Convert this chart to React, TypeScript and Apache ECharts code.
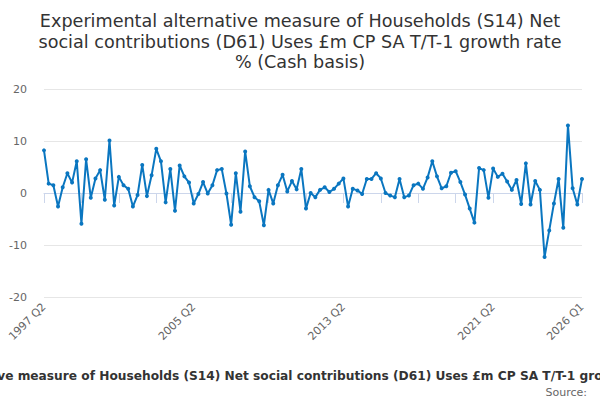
import React, { useEffect, useRef } from "react";
import * as echarts from "echarts";

const TITLE =
  "Experimental alternative measure of Households (S14) Net\nsocial contributions (D61) Uses £m CP SA T/T-1 growth rate\n% (Cash basis)";
const AXIS_TITLE =
  "Experimental alternative measure of Households (S14) Net social contributions (D61) Uses £m CP SA T/T-1 growth rate % (Cash basis)";

const START_YEAR = 1997;
const START_Q = 2;
const COUNT = 116;

const categories: string[] = [];
for (let i = 0; i < COUNT; i++) {
  const q = START_Q - 1 + i;
  categories.push(`${START_YEAR + Math.floor(q / 4)} Q${(q % 4) + 1}`);
}

const values = [
  8.2, 1.8, 1.5, -2.6, 1.1, 3.8, 2.0, 6.1, -5.9, 6.5,
  -0.9, 2.8, 4.4, -1.3, 10.1, -2.4, 3.1, 1.5, 0.8, -2.6,
  -0.4, 5.4, -0.6, 3.4, 8.5, 6.1, -1.8, 4.6, -3.4, 5.3,
  3.2, 2.0, -2.0, -0.2, 2.1, -0.1, 1.5, 4.4, 4.6, -0.1,
  -6.1, 3.8, -3.6, 8.0, 1.3, -0.8, -1.6, -6.2, 0.6, -2.0,
  1.5, 3.5, 0.3, 2.3, 0.7, 4.6, -3.0, 0.0, -0.8, 0.6,
  1.1, 0.2, 0.8, 1.8, 2.8, -2.6, 0.8, 0.5, -0.2, 2.7,
  2.7, 3.8, 2.8, 0.0, -0.5, -0.8, 2.7, -0.8, -0.5, 1.5,
  1.8, 0.8, 3.0, 6.1, 3.2, 0.9, 1.3, 3.9, 4.2, 2.1,
  -0.3, -3.0, -5.7, 4.8, 4.4, -0.9, 4.7, 3.1, 3.7, 2.2,
  0.6, 2.5, -2.1, 5.7, -2.2, 2.3, 0.6, -12.3, -7.2, -2.0,
  2.7, -6.7, 13.0, 0.9, -2.2, 2.7,
];

const labelIndices = [0, 32, 64, 96, 115];
const tickIndices = [0, 8, 16, 24, 32, 40, 48, 56, 64, 72, 80, 88, 96, 104, 115];

const Y_MIN = -20;
const Y_MAX = 20;
const Y_INTERVAL = 10;

export default function App() {
  const ref = useRef<HTMLDivElement>(null);
  useEffect(() => {
    if (!ref.current) return;
    const chart = echarts.init(ref.current, null, { renderer: "svg" });
    chart.setOption({
      animation: false,
      backgroundColor: "#ffffff",
      title: {
        text: TITLE,
        left: "center",
        top: 6,
        textStyle: {
          fontFamily: "DejaVu Sans",
          fontSize: 17.6,
          fontWeight: "normal",
          color: "#333333",
          lineHeight: 20.5,
        },
      },
      grid: { left: 44, right: 18, top: 89, bottom: 103 },
      xAxis: {
        type: "category",
        data: categories,
        boundaryGap: false,
        axisLine: { lineStyle: { color: "#ccd6eb", width: 1 } },
        axisTick: {
          length: 10,
          lineStyle: { color: "#ccd6eb" },
          interval: (i: number) => tickIndices.includes(i),
        },
        axisLabel: {
          interval: (i: number) => labelIndices.includes(i),
          rotate: 45,
          fontFamily: "DejaVu Sans",
          fontSize: 11,
          color: "#666666",
          margin: 8,
        },
        splitLine: { show: false },
      },
      yAxis: {
        type: "value",
        min: Y_MIN,
        max: Y_MAX,
        interval: Y_INTERVAL,
        axisLine: { show: false },
        axisTick: { show: false },
        axisLabel: {
          fontFamily: "DejaVu Sans",
          fontSize: 11,
          color: "#666666",
          margin: 17,
        },
        splitLine: { lineStyle: { color: "#e6e6e6", width: 1 } },
      },
      series: [
        {
          type: "line",
          data: values,
          symbol: "circle",
          symbolSize: 4,
          showAllSymbol: true,
          itemStyle: { color: "#0a76c0" },
          lineStyle: { color: "#0a76c0", width: 2 },
        },
      ],
      graphic: [
        {
          type: "text",
          x: 304,
          y: 375.5,
          style: {
            text: AXIS_TITLE,
            fontFamily: "DejaVu Sans",
            fontSize: 12.2,
            fontWeight: "bold",
            fill: "#333333",
            textAlign: "center",
            textVerticalAlign: "middle",
          },
        },
        {
          type: "text",
          x: 587,
          y: 392,
          style: {
            text: "Source:",
            fontFamily: "DejaVu Sans",
            fontSize: 11,
            fill: "#666666",
            textAlign: "right",
            textVerticalAlign: "middle",
          },
        },
      ],
    });
    return () => chart.dispose();
  }, []);
  return (
    <div
      ref={ref}
      style={{ position: "fixed", left: 0, top: 0, width: 600, height: 400 }}
    />
  );
}
